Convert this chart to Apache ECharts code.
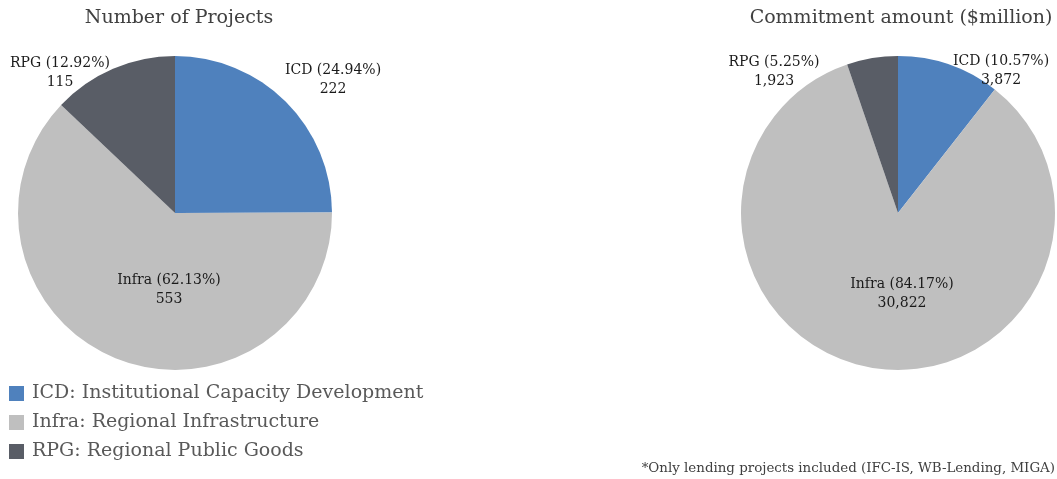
<!DOCTYPE html>
<html>
<head>
<meta charset="utf-8">
<script src="https://cdn.jsdelivr.net/npm/echarts@6/dist/echarts.min.js"></script>
<style>
  html, body { margin: 0; padding: 0; background: #fff; }
  #chart { width: 1057px; height: 479px; }
</style>
</head>
<body>
<div id="chart"></div>
<script>
const categories = ["ICD", "Infra", "RPG"];
const fullNames = [
  "ICD: Institutional Capacity Development",
  "Infra: Regional Infrastructure",
  "RPG: Regional Public Goods",
];
const projectCounts = [222, 553, 115];
const commitmentAmounts = [3872, 30822, 1923];
const titles = ["Number of Projects", "Commitment amount ($million)"];
const footnote = "*Only lending projects included (IFC-IS, WB-Lending, MIGA)";

const colors = ["#4f81bd", "#bfbfbf", "#595d66"];
const font = "DejaVu Serif";

// pie centres and where each slice label sits, relative to the centre
const centers = [[175, 213], [898, 213]];
const labelOffsets = [
  [[158, -133], [-6, 77], [-115, -140]],
  [[103, -142], [4, 81], [-124, -141]],
];

const toData = (values) =>
  categories.map((name, i) => ({ name, value: values[i] }));

const sum = (arr) => arr.reduce((a, b) => a + b, 0);

const makePie = (idx, values) => {
  const total = sum(values);
  return {
    type: "pie",
    center: centers[idx],
    radius: 157,
    startAngle: 90,
    clockwise: true,
    animation: false,
    data: toData(values),
    label: {
      show: true,
      position: "inside",
      formatter: (p) =>
        p.name + " (" + ((p.value / total) * 100).toFixed(2) + "%)\n" +
        p.value.toLocaleString("en-US"),
      fontFamily: font,
      fontSize: 14,
      lineHeight: 19,
      color: "#1a1a1a",
      align: "center",
    },
    labelLine: { show: false },
    labelLayout: (params) => {
      const off = labelOffsets[idx][params.dataIndex];
      return {
        x: centers[idx][0] + off[0],
        y: centers[idx][1] + off[1],
        align: "center",
        verticalAlign: "middle",
      };
    },
    emphasis: { disabled: true },
  };
};

const chart = echarts.init(document.getElementById("chart"));
chart.setOption({
  color: colors,
  title: [
    {
      text: titles[0], left: 174, top: 4, textAlign: "center",
      textStyle: { fontFamily: font, fontSize: 19, fontWeight: "normal", color: "#404040" },
    },
    {
      text: titles[1], left: 896, top: 4, textAlign: "center",
      textStyle: { fontFamily: font, fontSize: 19, fontWeight: "normal", color: "#404040" },
    },
    {
      text: footnote, right: 2, bottom: 4, padding: 0,
      textStyle: { fontFamily: font, fontSize: 13.4, fontWeight: "normal", color: "#404040" },
    },
  ],
  legend: {
    orient: "vertical",
    left: 4,
    top: 379,
    icon: "rect",
    itemWidth: 15,
    itemHeight: 15,
    itemGap: 10,
    data: categories,
    formatter: (name) => fullNames[categories.indexOf(name)],
    textStyle: { fontFamily: font, fontSize: 19, lineHeight: 18, color: "#595959", padding: [0, 0, 0, 3] },
    selectedMode: false,
  },
  series: [makePie(0, projectCounts), makePie(1, commitmentAmounts)],
});
</script>
</body>
</html>
